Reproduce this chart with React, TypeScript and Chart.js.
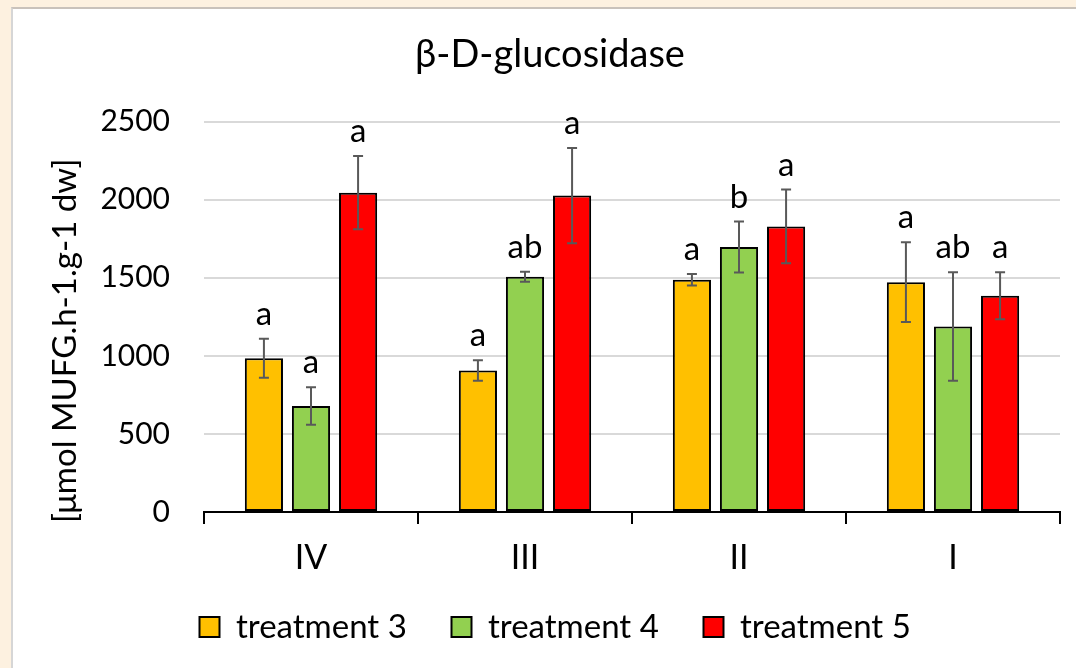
import React, { useEffect, useRef } from "react";
import { Chart, registerables } from "chart.js";

Chart.register(...registerables);

const categories = ["IV", "III", "II", "I"];
const seriesNames = ["treatment 3", "treatment 4", "treatment 5"];
const treatment3 = [985, 906, 1487, 1472];
const treatment4 = [679, 1506, 1697, 1188];
const treatment5 = [2045, 2026, 1829, 1385];
const treatment3Err = [125, 65, 37, 255];
const treatment4Err = [120, 32, 163, 347];
const treatment5Err = [235, 305, 236, 150];
const treatment3Letters = ["a", "a", "a", "a"];
const treatment4Letters = ["a", "ab", "b", "ab"];
const treatment5Letters = ["a", "a", "a", "a"];
const yTicks = [0, 500, 1000, 1500, 2000, 2500];

const colors = ["#FFC000", "#92D050", "#FF0000"];
const FONT = "Lato";

export default function App() {
  const ref = useRef<HTMLCanvasElement | null>(null);

  useEffect(() => {
    if (!ref.current) return;
    const errs = [treatment3Err, treatment4Err, treatment5Err];
    const letters = [treatment3Letters, treatment4Letters, treatment5Letters];
    const values = [treatment3, treatment4, treatment5];

    const legendFont = 33;
    const mctx = document.createElement("canvas").getContext("2d")!;
    mctx.font = `${legendFont}px ${FONT}`;
    const tw = mctx.measureText(seriesNames[0]).width;
    const legendPad = Math.max(4, 252 - 20 - legendFont / 2 - tw);

    const annot = {
      id: "annot",
      afterLayout(chart: any) {
        const lg = chart.legend;
        if (!lg) return;
        const pad = lg.options.labels.padding;
        const targetLeft = chart.chartArea.left - 4.5 - pad;
        const w = lg.right - lg.left;
        lg.left = targetLeft;
        lg.right = targetLeft + w;
        const h = lg.bottom - lg.top;
        const targetTop = 627 - legendFont / 2 - pad;
        lg.top = targetTop;
        lg.bottom = targetTop + h;
      },
      afterDatasetsDraw(chart: any) {
        const ctx = chart.ctx;
        const y = chart.scales.y;
        ctx.save();
        chart.data.datasets.forEach((ds: any, di: number) => {
          const meta = chart.getDatasetMeta(di);
          meta.data.forEach((bar: any, i: number) => {
            const v = values[di][i];
            const e = errs[di][i];
            const x = bar.x;
            const yt = y.getPixelForValue(v + e);
            const yb = y.getPixelForValue(v - e);
            ctx.strokeStyle = "#595959";
            ctx.lineWidth = 2;
            ctx.beginPath();
            ctx.moveTo(x, yt);
            ctx.lineTo(x, yb);
            ctx.moveTo(x - 5, yt);
            ctx.lineTo(x + 5, yt);
            ctx.moveTo(x - 5, yb);
            ctx.lineTo(x + 5, yb);
            ctx.stroke();
            ctx.fillStyle = "#000";
            ctx.font = `33px ${FONT}`;
            ctx.textAlign = "center";
            ctx.textBaseline = "alphabetic";
            ctx.fillText(letters[di][i], x, yt - 14);
          });
        });
        const ca = chart.chartArea;
        ctx.translate(ca.left - 139, (ca.top + ca.bottom) / 2 + 24);
        ctx.rotate(-Math.PI / 2);
        ctx.font = `33px ${FONT}`;
        ctx.fillStyle = "#000";
        ctx.textAlign = "center";
        ctx.textBaseline = "middle";
        ctx.fillText("[μmol MUFG.h-1.g-1 dw]", 0, 0);
        ctx.restore();
      },
    };

    const chart = new Chart(ref.current, {
      type: "bar",
      data: {
        labels: categories,
        datasets: values.map((d, i) => ({
          label: seriesNames[i],
          data: d,
          backgroundColor: colors[i],
          borderColor: "#000",
          borderWidth: 2,
          borderSkipped: false,
          categoryPercentage: 0.66,
          barPercentage: 0.81,
        })),
      },
      options: {
        responsive: false,
        animation: false,
        layout: { padding: { left: 40, right: 16, top: 0, bottom: 0 } },
        plugins: {
          title: {
            display: true,
            text: "β-D-glucosidase",
            color: "#000",
            font: { family: FONT, size: 38, weight: "normal", lineHeight: 1.2 },
            padding: { top: 32, bottom: 44 },
          },
          legend: {
            display: true,
            position: "bottom",
            align: "start",
            labels: {
              boxWidth: 20,
              boxHeight: 20,
              padding: legendPad,
              color: "#000",
              font: { family: FONT, size: legendFont },
            },
          },
          tooltip: { enabled: false },
        },
        scales: {
          x: {
            grid: {
              offset: true,
              drawOnChartArea: false,
              drawTicks: true,
              tickLength: 12,
              color: "#000",
              lineWidth: 2,
            },
            border: { display: true, color: "#000", width: 2 },
            ticks: { color: "#000", font: { family: FONT, size: 34 }, padding: 14 },
            afterFit: (scale: any) => {
              const lgH = scale.chart.legend ? scale.chart.legend.height : 0;
              scale.height = scale.chart.height - 512 - lgH;
            },
          },
          y: {
            min: 0,
            max: 2500,
            afterBuildTicks: (scale: any) => {
              scale.ticks = yTicks.map((v) => ({ value: v }));
            },
            grid: { color: "#D9D9D9", lineWidth: 2, drawTicks: false },
            border: { display: false },
            ticks: {
              color: "#000",
              font: { family: FONT, size: 30 },
              padding: 34,
              callback: (v: any) => String(v),
            },
            afterFit: (scale: any) => {
              scale.width = 164;
            },
          },
        },
      },
      plugins: [annot],
    });
    return () => chart.destroy();
  }, []);

  return (
    <div style={{ position: "fixed", inset: 0, background: "#FDF1E0", overflow: "hidden" }}>
      <div
        style={{
          position: "absolute",
          left: 11,
          top: 7,
          right: 0,
          bottom: 0,
          background: "#FFFFFF",
          borderTop: "2px solid #C9C2BB",
          borderLeft: "2px solid #D6D6D6",
        }}
      />
      <canvas
        ref={ref}
        width={1076}
        height={668}
        style={{ position: "absolute", left: 0, top: 0, width: 1076, height: 668 }}
      />
    </div>
  );
}
